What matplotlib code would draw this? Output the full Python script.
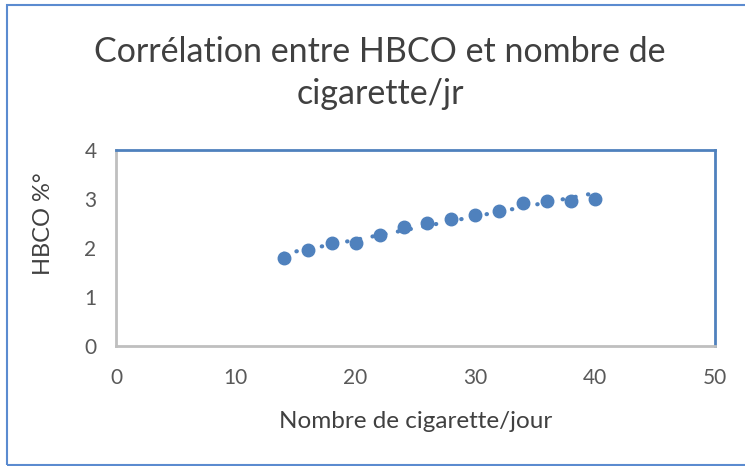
import numpy as np
import matplotlib
matplotlib.use("Agg")
import matplotlib.pyplot as plt
from matplotlib.patches import Rectangle

cigarettes = [14, 16, 18, 20, 22, 24, 26, 28, 30, 32, 34, 36, 38, 40]
hbco = [1.8, 1.95, 2.1, 2.1, 2.27, 2.42, 2.52, 2.6, 2.67, 2.76, 2.92, 2.96, 2.96, 3.0]
x_ticks = [0, 10, 20, 30, 40, 50]
y_ticks = [0, 1, 2, 3, 4]
title = "Corrélation entre HBCO et nombre de\ncigarette/jr"
x_label = "Nombre de cigarette/jour"
y_label = "HBCO %°"

W, H = 745, 466
fig = plt.figure(figsize=(W / 100, H / 100), dpi=100)
font = ["Lato", "DejaVu Sans"]
plt.rcParams['font.family'] = font

blue = "#4F81BD"
txt = "#595959"

# outer chart border
fig.patches.append(Rectangle((7 / W, 1 - 465 / H), (W + 10) / W, (465 - 5) / H,
                             transform=fig.transFigure, fill=False,
                             edgecolor="#5B8BD0", linewidth=1.5, clip_on=False))

ax = fig.add_axes([116 / W, 1 - 346 / H, (715 - 116) / W, (346 - 150) / H])
ax.set_xlim(0, 50)
ax.set_ylim(0, 4)
ax.set_xticks(x_ticks)
ax.set_yticks(y_ticks)
ax.tick_params(length=0, labelsize=15, labelcolor=txt)
ax.tick_params(axis='x', pad=16)
ax.tick_params(axis='y', pad=14)

ax.spines['left'].set_color("#BFBFBF")
ax.spines['bottom'].set_color("#BFBFBF")
ax.spines['top'].set_color(blue)
ax.spines['right'].set_color(blue)
for s in ax.spines.values():
    s.set_linewidth(2)

x = np.array(cigarettes, dtype=float)
y = np.array(hbco, dtype=float)
coef = np.polyfit(x, y, 1)
xt = np.array([x.min(), x.max()])
ax.plot(xt, np.polyval(coef, xt), linestyle=(0, (0.1, 3.0)), color=blue,
        linewidth=3.0, solid_capstyle='round', dash_capstyle='round', zorder=2)
ax.plot(x, y, 'o', color=blue, markersize=9, zorder=3)

ax.set_xlabel(x_label, fontsize=17.5, color="#404040")
ax.xaxis.set_label_coords((416 - 116) / 599, (346 - 421) / 196)
ax.xaxis.label.set_va('center')
ax.set_ylabel(y_label, fontsize=17, color="#404040")
ax.yaxis.set_label_coords((44 - 116) / 599, (346 - 224) / 196)
ax.yaxis.label.set_va('center')

fig.text(380 / W, 1 - 73 / H, title, ha='center', va='center', fontsize=24.5,
         color="#404040", linespacing=1.42)

fig.savefig("out.png", dpi=100)
